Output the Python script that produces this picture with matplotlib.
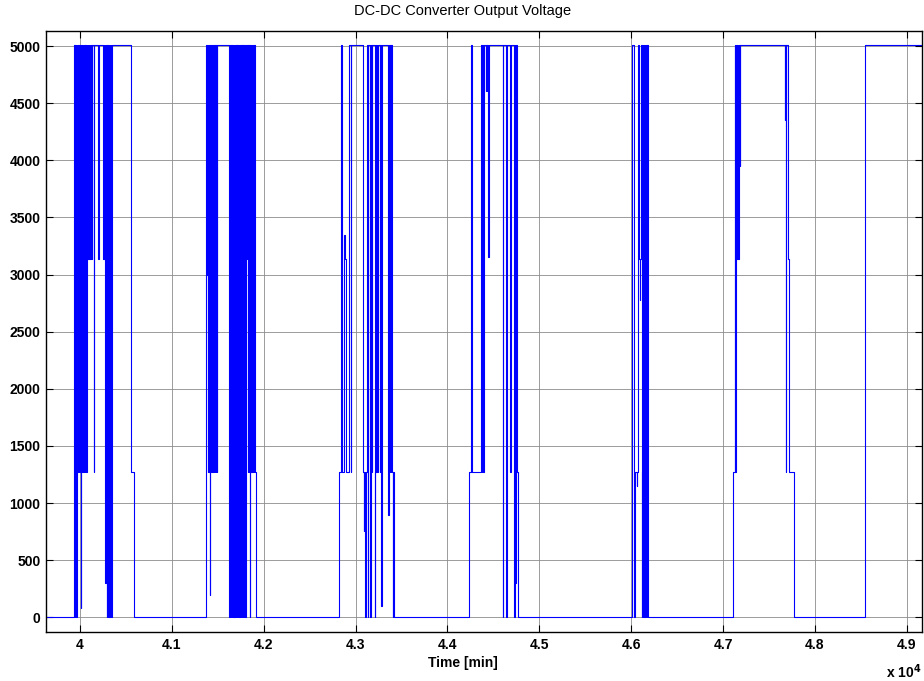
import matplotlib
matplotlib.use("Agg")
import matplotlib.pyplot as plt
import numpy as np

# ---------------- data (step breakpoints: value holds from t[i] to t[i+1]) ----------------
t_start, t_end = 39600, 49200

burst1_t = [39936, 39940, 39944, 39948, 39952, 39955, 39958, 39962, 39965, 39970,
            39973, 39978, 39982, 39987, 39990, 39995, 39999, 40004, 40007, 40010,
            40013, 40018, 40022, 40027, 40030, 40035, 40039, 40044, 40048, 40052,
            40056, 40061, 40065, 40070, 40074, 40079, 40083, 40090, 40094, 40102,
            40106, 40114, 40118, 40130, 40133, 40150, 40154, 40200, 40204, 40255,
            40259, 40265, 40268, 40275, 40284, 40290, 40296, 40302, 40306, 40312,
            40318, 40325, 40330, 40334, 40338, 40344, 40550, 40585]
burst1_v = [1270, 5010, 0, 5010, 1270, 5010, 0, 3140, 5010, 1270,
            5010, 3140, 5010, 1270, 5010, 3140, 5010, 1270, 80, 1270,
            5010, 1270, 5010, 3140, 5010, 1270, 5010, 1270, 5010, 1270,
            5010, 1270, 5010, 1270, 5010, 3140, 5010, 3140, 5010, 3140,
            5010, 3140, 5010, 3140, 5010, 1270, 5010, 3140, 5010, 3140,
            5010, 3140, 5010, 300, 5010, 0, 5010, 3140, 0, 5010,
            0, 5010, 3140, 5010, 0, 5010, 1270, 0]

burst2_t = [41369, 41387, 41390, 41395, 41398, 41402, 41405, 41409, 41412, 41416,
            41420, 41424, 41428, 41432, 41436, 41440, 41444, 41449, 41453, 41458,
            41462, 41467, 41471, 41476, 41480, 41486, 41492, 41617, 41625, 41630,
            41640, 41645, 41652, 41658, 41666, 41671, 41680, 41685, 41693, 41698,
            41706, 41711, 41720, 41725, 41734, 41740, 41748, 41752, 41760, 41765,
            41773, 41778, 41786, 41790, 41800, 41805, 41815, 41818, 41825, 41830,
            41838, 41842, 41850, 41855, 41863, 41868, 41875, 41880, 41890, 41895,
            41905, 41918]
burst2_v = [5010, 3000, 5010, 1270, 5010, 1270, 5010, 1270, 5010, 200,
            5010, 1270, 5010, 1270, 5010, 1270, 5010, 1270, 5010, 1270,
            5010, 1270, 5010, 1270, 5010, 1270, 5010, 3400, 0, 5010,
            0, 5010, 0, 5010, 0, 5010, 0, 5010, 0, 5010,
            0, 5010, 0, 5010, 0, 5010, 0, 5010, 0, 5010,
            0, 5010, 0, 5010, 0, 5010, 3140, 5010, 1270, 5010,
            1270, 5010, 0, 5010, 1270, 5010, 1270, 5010, 1270, 5010,
            1270, 0]

burst3_t = [42819, 42837, 42851, 42879, 42886, 42890, 42929, 42947, 42954, 43085,
            43092, 43096, 43106, 43112, 43120, 43131, 43135, 43140, 43156, 43160,
            43168, 43177, 43182, 43210, 43216, 43222, 43238, 43244, 43262, 43266,
            43280, 43286, 43355, 43359, 43369, 43374, 43380, 43387, 43392, 43396,
            43400, 43404, 43410, 43418]
burst3_v = [1270, 5010, 1270, 3350, 3140, 1270, 5010, 1270, 5010, 1270,
            760, 1270, 0, 1270, 5010, 1270, 0, 5010, 1270, 0,
            5010, 1270, 5010, 0, 1270, 5010, 1270, 5010, 1270, 5010,
            100, 5010, 900, 5010, 1270, 5010, 1270, 5010, 1270, 5010,
            1270, 0, 1270, 0]

burst4_t = [44238, 44255, 44266, 44362, 44366, 44370, 44374, 44378, 44382, 44386,
            44390, 44394, 44418, 44422, 44428, 44432, 44443, 44447, 44600, 44606,
            44640, 44646, 44680, 44686, 44720, 44730, 44740, 44745, 44760, 44770]
burst4_v = [1270, 5010, 1270, 5010, 1270, 5010, 1270, 5010, 1270, 5010,
            1270, 5010, 4610, 5010, 4610, 5010, 3150, 5010, 0, 5010,
            0, 5010, 1270, 5010, 0, 5010, 300, 5010, 1270, 0]

burst5_t = [46011, 46025, 46030, 46035, 46040, 46060, 46066, 46074, 46088, 46095,
            46100, 46109, 46112, 46116, 46120, 46124, 46128, 46132, 46136, 46140,
            46144, 46148, 46152, 46156, 46160, 46164, 46168, 46174, 46178]
burst5_v = [5010, 3140, 1270, 0, 1270, 1150, 1270, 5010, 3140, 2780,
            3140, 5010, 0, 5010, 1270, 5010, 0, 5010, 2780, 5010,
            0, 5010, 1270, 5010, 0, 5010, 0, 5010, 0]

burst6_t = [47110, 47128, 47132, 47136, 47140, 47144, 47148, 47152, 47156, 47160,
            47164, 47168, 47172, 47176, 47180, 47185, 47670, 47674, 47680, 47690,
            47705, 47713, 47773]
burst6_v = [1270, 5010, 1270, 5010, 1270, 5010, 3140, 5010, 3140, 5010,
            3140, 5010, 3140, 5010, 3950, 5010, 4350, 5010, 1270, 5010,
            3140, 1270, 0]

burst7_t = [48543, 48550]
burst7_v = [1270, 5010]

xticks = [40000, 41000, 42000, 43000, 44000, 45000, 46000, 47000, 48000, 49000]
xtick_labels = ["4", "4.1", "4.2", "4.3", "4.4", "4.5", "4.6", "4.7", "4.8", "4.9"]
yticks = [0, 500, 1000, 1500, 2000, 2500, 3000, 3500, 4000, 4500, 5000]

# ---------------- assemble ----------------
t = [t_start]
v = [0]
for bt, bv in [(burst1_t, burst1_v), (burst2_t, burst2_v), (burst3_t, burst3_v),
               (burst4_t, burst4_v), (burst5_t, burst5_v), (burst6_t, burst6_v),
               (burst7_t, burst7_v)]:
    t += bt
    v += bv
t.append(t_end)
v.append(v[-1])

plt.rcParams['font.family'] = ['Liberation Sans', 'DejaVu Sans']

fig = plt.figure(figsize=(9.24, 6.81), dpi=100)
ax = fig.add_axes([46/924, 1-632/681, (922-46)/924, (632-31)/681])

ax.step(t, v, where='post', color=(0, 0, 1), lw=0.8)

ax.set_xlim(39630, 49165)
ax.set_ylim(-128, 5132)
ax.set_xticks(xticks)
ax.set_xticklabels(xtick_labels)
ax.set_yticks(yticks)
ax.set_yticklabels([str(y) for y in yticks])
for lab in ax.get_xticklabels() + ax.get_yticklabels():
    lab.set_fontweight('bold')
    lab.set_fontsize(10)
ax.tick_params(direction='in', length=5, width=0.8, top=True, right=True, pad=4)
ax.grid(True, color='0.55', lw=0.6)
for s in ax.spines.values():
    s.set_linewidth(1.0)

fig.text(463/924, 1-11/681, "DC-DC Converter Output Voltage", ha='center', va='center', fontsize=10.5)
fig.text(463/924, 1-663/681, "Time [min]", ha='center', va='center', fontsize=10, fontweight='bold')
fig.text(921/924, 1-672/681, r"x 10$^{\mathbf{4}}$", ha='right', va='center', fontsize=10, fontweight='bold')

fig.savefig("out.png", dpi=100)
